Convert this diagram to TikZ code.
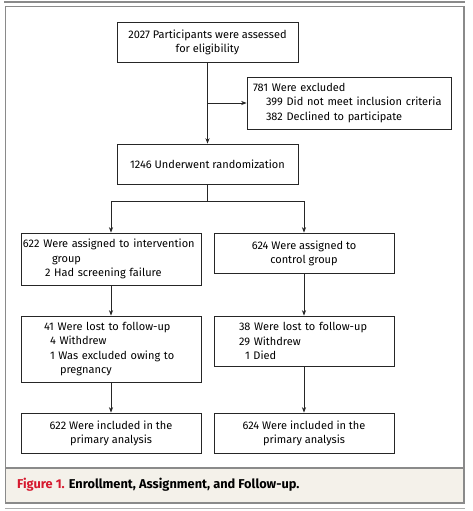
\documentclass[tikz,border=0pt]{standalone}
\usepackage{fontspec}
\setmainfont{Fira Sans}
\usetikzlibrary{arrows.meta}
\definecolor{framegray}{HTML}{8A8A8A}
\definecolor{capbg}{HTML}{F4F1EA}
\definecolor{figred}{HTML}{D6192E}
\begin{document}
\begin{tikzpicture}[x=1pt,y=-1pt,
  box/.style={draw=black!85, line width=0.8pt, inner ysep=0pt, font=\fontsize{11}{14.2}\selectfont},
  conn/.style={draw=black!85, line width=0.8pt},
  arr/.style={conn, -{Stealth[length=5.5pt,width=4.2pt]}}]
\useasboundingbox (0,0) rectangle (473,511);
% frame and caption band
\fill[capbg] (5.5,468) rectangle (464,503);
\draw[framegray, line width=1.8pt] (4,2.3) -- (465,2.3);
\draw[framegray, line width=1.3pt] (5.5,6.5) rectangle (464,503);
\draw[framegray, line width=1.3pt] (5.5,468) -- (464,468);
\draw[framegray!70, line width=0.8pt] (5,508.5) -- (465,508.5);
% boxes
\node[box, align=center, minimum width=181pt, minimum height=40pt] (assess) at (207.5,42)
  {2027 Participants were assessed\\for eligibility};
\node[box, align=left, text width=192pt, inner xsep=6pt, minimum height=52pt] (excl) at (349,103)
  {781 Were excluded\\\hspace*{13pt}399 Did not meet inclusion criteria\\\hspace*{13pt}382 Declined to participate};
\node[box, align=center, minimum width=181pt, minimum height=40pt] (rand) at (207.5,164)
  {1246 Underwent randomization};
\node[box, align=left, text width=176pt, inner xsep=2pt, minimum height=52pt] (intv) at (111,259)
  {622 Were assigned to intervention\\\hspace*{29pt}group\\\hspace*{22pt}2 Had screening failure};
\node[box, align=center, minimum width=180pt, minimum height=40pt] (ctrl) at (304,253)
  {624 Were assigned to\\control group};
\node[box, align=left, text width=134pt, inner xsep=23pt, minimum height=66pt] (lostL) at (111,349)
  {41 Were lost to follow-up\\\hspace*{6pt}4 Withdrew\\\hspace*{6pt}1 Was excluded owing to\\\hspace*{16pt}pregnancy};
\node[box, align=left, text width=130pt, inner xsep=25pt, minimum height=50pt] (lostR) at (304,341)
  {38 Were lost to follow-up\\29 Withdrew\\\hspace*{6pt}1 Died};
\node[box, align=center, minimum width=180pt, minimum height=40pt] (inclL) at (111,433)
  {622 Were included in the\\primary analysis};
\node[box, align=center, minimum width=180pt, minimum height=40pt] (inclR) at (304,433)
  {624 Were included in the\\primary analysis};
% connectors
\coordinate (j1) at (207.5,103);
\coordinate (j2) at (207.5,201);
\draw[arr] (assess.south) -- (rand.north);
\draw[arr] (j1) -- (excl.west);
\draw[conn] (rand.south) -- (j2);
\draw[arr] (j2) -| (intv.north);
\draw[arr] (j2) -| (ctrl.north);
\draw[arr] (intv.south) -- (lostL.north);
\draw[arr] (ctrl.south) -- (lostR.north);
\draw[arr] (lostL.south) -- (inclL.north);
\draw[arr] (lostR.south) -- (inclR.north);
% caption
\node[anchor=base west, inner sep=0pt, font=\fontsize{12.8}{15}\selectfont\bfseries] (cap) at (17,488.5)
  {\textcolor{figred}{Figure 1.} Enrollment, Assignment, and Follow-up.};
\end{tikzpicture}
\end{document}
